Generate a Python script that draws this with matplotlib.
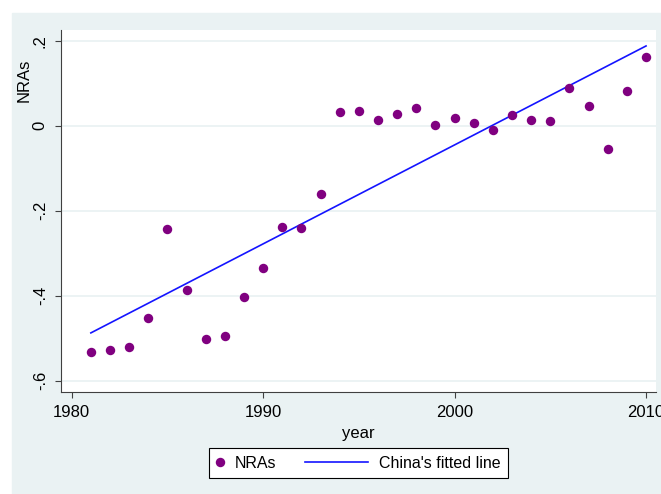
import numpy as np
import matplotlib
matplotlib.use('Agg')
import matplotlib.pyplot as plt
from matplotlib.patches import Rectangle
from matplotlib.legend_handler import HandlerLine2D

plt.rcParams['font.family'] = ['Liberation Sans', 'DejaVu Sans']

# nominal rate of assistance by year
years = [1981, 1982, 1983, 1984, 1985, 1986, 1987, 1988, 1989, 1990,
         1991, 1992, 1993, 1994, 1995, 1996, 1997, 1998, 1999, 2000,
         2001, 2002, 2003, 2004, 2005, 2006, 2007, 2008, 2009, 2010]
nras = [-0.533, -0.528, -0.521, -0.452, -0.243, -0.387, -0.503, -0.496, -0.404, -0.336,
        -0.238, -0.241, -0.160, 0.031, 0.035, 0.014, 0.027, 0.042, 0.002, 0.017,
        0.005, -0.010, 0.024, 0.014, 0.010, 0.088, 0.047, -0.055, 0.082, 0.162]

yticks = [-0.6, -0.4, -0.2, 0.0, 0.2]
ytick_labels = ['-.6', '-.4', '-.2', '0', '.2']
xticks = [1980, 1990, 2000, 2010]

bg = '#EAF2F3'
purple = '#800080'
blue = '#1414FF'


# legend line handle drawn wider than its handle box
class WideLine(HandlerLine2D):
    def get_xdata(self, legend, xdescent, ydescent, width, height, fontsize):
        xd, xm = super().get_xdata(legend, xdescent, ydescent, width, height, fontsize)
        return [xd[0] - 40, xd[-1]], xm


fig = plt.figure(figsize=(6.61, 4.94), dpi=100)
fig.patches.append(Rectangle((12 / 661, 0), 1, (494 - 13) / 494,
                             transform=fig.transFigure, color=bg, zorder=-5))

ax = fig.add_axes([61 / 661, (494 - 392) / 494, 595 / 661, 362 / 494])
ax.set_facecolor('white')

x = np.array(years)
y = np.array(nras)
slope, icept = np.polyfit(x, y, 1)

pts, = ax.plot(x, y, 'o', color=purple, markersize=6.8, markeredgewidth=0, zorder=3)
fit, = ax.plot(x, slope * x + icept, color=blue, linewidth=1.2, zorder=2)

ax.set_xlim(1979.44, 2010.52)
ax.set_ylim(-0.627, 0.225)
ax.set_yticks(yticks)
ax.set_yticklabels(ytick_labels)
ax.set_xticks(xticks)
ax.grid(axis='y', color=bg, linewidth=1.3)
ax.grid(axis='x', visible=False)
ax.set_axisbelow(True)

for s in ['top', 'right']:
    ax.spines[s].set_visible(False)
for s in ['left', 'bottom']:
    ax.spines[s].set_color('#404040')
    ax.spines[s].set_linewidth(0.8)

ax.tick_params(axis='both', direction='out', length=4, width=0.8,
               color='#404040', labelsize=12, pad=5.5)
ax.tick_params(axis='y', labelrotation=90)
for lbl in ax.get_yticklabels():
    lbl.set_va('center')

ax.set_xlabel('year', fontsize=12)
ax.xaxis.set_label_coords(0.5, -0.095)
ax.set_ylabel('NRAs', fontsize=12)
ax.yaxis.set_label_coords(-0.049, 0.862)

leg = fig.legend([pts, fit], ['NRAs', "China's fitted line"], ncol=2,
                 loc='center', bbox_to_anchor=(358.5 / 661, (494 - 463) / 494),
                 fontsize=11.5, frameon=True, fancybox=False, edgecolor='black',
                 handlelength=0.45, handletextpad=0.7, columnspacing=5.3,
                 borderpad=0.45, numpoints=1,
                 handler_map={fit: WideLine()})
leg.get_frame().set_linewidth(0.8)
leg.get_frame().set_facecolor('white')
leg.get_frame().set_alpha(1)

fig.savefig('out.png', dpi=100, facecolor='white')
